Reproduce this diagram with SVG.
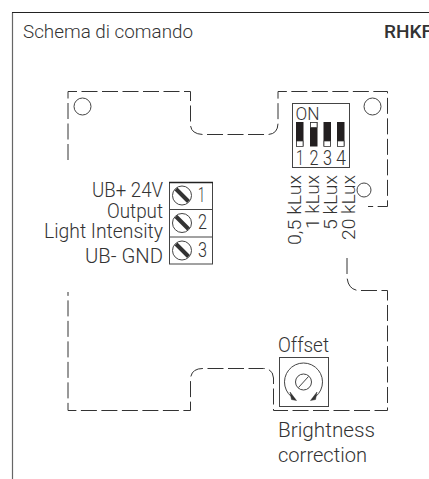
<svg xmlns="http://www.w3.org/2000/svg" width="429" height="479" viewBox="0 0 429 479">
<style>
text{font-family:Roboto,"Liberation Sans",sans-serif;fill:#333;font-weight:300}
.d{fill:none;stroke:#333;stroke-width:1;stroke-dasharray:16 4.500}
.b{fill:none;stroke:#444;stroke-width:1}
.k{fill:#231f20}
.w{fill:#fff;stroke:#333;stroke-width:.7}
</style>
<defs>
<g id="screw"><circle r="9.500" class="b"/><path d="M-6-6.500L6.500 6" stroke="#333" stroke-width="4"/></g>
</defs>
<rect width="429" height="479" fill="#fff"/>
<path d="M12.500 479V12.500" fill="none" stroke="#666" stroke-width="1.200"/>
<path d="M12 12.500H429" fill="none" stroke="#222" stroke-width="1"/>
<g id="title"><text x="23" y="38" font-size="18.500" textLength="170" lengthAdjust="spacingAndGlyphs">Schema di comando</text>
<text x="384" y="38" font-size="18" style="font-weight:500" fill="#222" textLength="48" lengthAdjust="spacingAndGlyphs">RHKF</text></g>
<g id="connectors">
<path class="d" d="M68 160V91.500H190.500V125Q191 134 203 134.500H268Q278 134 278 123V91.500H387.500V206.500H368"/>
<path class="d" d="M347 258V275Q347 289 358 290.500H387.500V410.500H273.500V378Q273 368 262 368.500H204Q190.500 368 190.500 380V410.500H68V292"/>
</g>
<g id="hole-left"><circle cx="82.500" cy="106.500" r="8.500" class="b"/></g>
<g id="hole-right"><circle cx="372.500" cy="106.500" r="8.500" class="b"/></g>
<g id="hole-lux"><circle cx="364" cy="190" r="7" class="b"/></g>
<g id="dip-switch">
<rect x="292.500" y="103.500" width="57" height="64" class="b"/>
<text x="295.500" y="119.500" font-size="19" textLength="24" lengthAdjust="spacingAndGlyphs">ON</text>
<g id="sw1"><rect x="296" y="122" width="7.500" height="24.500" class="k"/><rect x="296.500" y="141" width="6.500" height="5.500" class="w"/></g>
<g id="sw2"><rect x="310" y="122" width="7.500" height="24.500" class="k"/><rect x="310.500" y="122.500" width="6.500" height="5" class="w"/></g>
<g id="sw3"><rect x="323.500" y="122" width="7.500" height="24.500" class="k"/><rect x="324" y="141" width="6.500" height="5.500" class="w"/></g>
<g id="sw4"><rect x="337" y="122" width="7.500" height="24.500" class="k"/><rect x="337.500" y="141" width="6.500" height="5.500" class="w"/></g>
<g font-size="21"><text x="296" y="165" textLength="8" lengthAdjust="spacingAndGlyphs">1</text><text x="309.500" y="165" textLength="9" lengthAdjust="spacingAndGlyphs">2</text><text x="323" y="165" textLength="9" lengthAdjust="spacingAndGlyphs">3</text><text x="336" y="165" textLength="10" lengthAdjust="spacingAndGlyphs">4</text></g>
</g>
<g id="lux-labels" font-size="18.500">
<text transform="translate(301 245) rotate(-90)" textLength="70" lengthAdjust="spacingAndGlyphs">0,5 kLux</text>
<text transform="translate(319 229) rotate(-90)" textLength="54" lengthAdjust="spacingAndGlyphs">1 kLux</text>
<text transform="translate(337 230) rotate(-90)" textLength="55" lengthAdjust="spacingAndGlyphs">5 kLux</text>
<text transform="translate(355 240) rotate(-90)" textLength="65" lengthAdjust="spacingAndGlyphs">20 kLux</text>
</g>
<g id="terminal-labels" font-size="20">
<text x="92" y="197" textLength="71" lengthAdjust="spacingAndGlyphs">UB+ 24V</text>
<text x="107" y="218" textLength="56" lengthAdjust="spacingAndGlyphs">Output</text>
<text x="44" y="238" textLength="119" lengthAdjust="spacingAndGlyphs">Light Intensity</text>
<text x="85" y="263" textLength="78" lengthAdjust="spacingAndGlyphs">UB- GND</text>
</g>
<g id="terminal">
<rect x="169.500" y="182.500" width="43" height="81.500" class="b"/>
<path d="M169 182.500H213" stroke="#222" stroke-width="1.500"/>
<path d="M169 209.500H213M169 237H213" class="b"/>
<use href="#screw" x="182" y="195.500"/><use href="#screw" x="182" y="223"/><use href="#screw" x="182" y="250.500"/>
<g font-size="20.500"><text x="198" y="202" textLength="7" lengthAdjust="spacingAndGlyphs">1</text><text x="198" y="229" textLength="9" lengthAdjust="spacingAndGlyphs">2</text><text x="198" y="257" textLength="9" lengthAdjust="spacingAndGlyphs">3</text></g>
</g>
<g id="offset">
<text x="278" y="352" font-size="20" textLength="51" lengthAdjust="spacingAndGlyphs">Offset</text>
<rect x="279.500" y="357.500" width="49" height="49" class="b"/>
<circle cx="303.500" cy="382" r="8" class="b"/>
<path d="M298.500 387.500L308.500 376.500" class="b"/>
<path d="M295 399A19 19 0 1 1 312 399" class="b"/>
<path d="M290 392L296.500 400.500L291.500 399.500ZM317 392L310.500 400.500L315.500 399.500Z" fill="#333" stroke="#333" stroke-width=".5"/>
<text x="278" y="437" font-size="21" textLength="97" lengthAdjust="spacingAndGlyphs">Brightness</text>
<text x="278" y="462" font-size="21" textLength="89" lengthAdjust="spacingAndGlyphs">correction</text>
</g>
</svg>
